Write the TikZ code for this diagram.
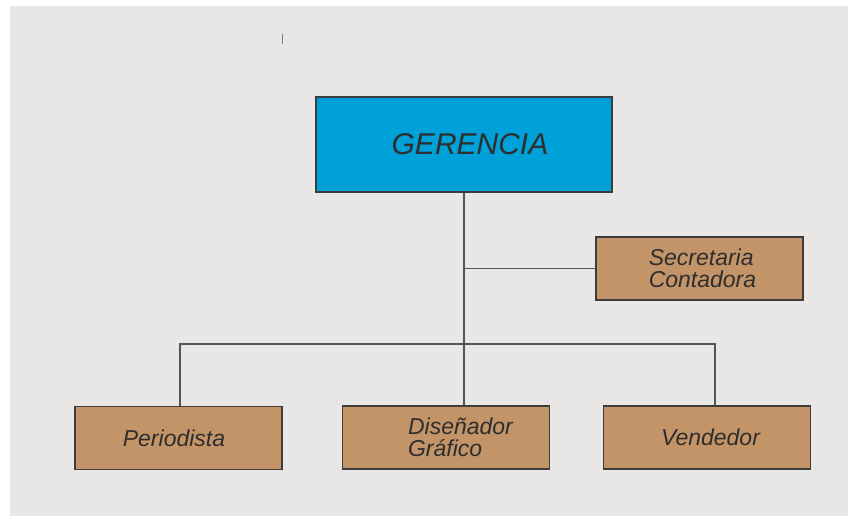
\documentclass[tikz,border=0pt]{standalone}
\usepackage{fontspec}
\setmainfont{Liberation Sans}
\usetikzlibrary{positioning}

\definecolor{paper}{HTML}{E8E7E5}
\definecolor{headblue}{HTML}{00A0D8}
\definecolor{staffbrown}{HTML}{C39468}
\definecolor{edgegray}{HTML}{3C3C3C}
\definecolor{linegray}{HTML}{555555}
\definecolor{inkgray}{HTML}{2E2E2E}

\begin{document}
\begin{tikzpicture}[
        x=1pt, y=-1pt,
        head/.style={rectangle, minimum width=296pt, minimum height=95pt,
            inner sep=0pt, draw=edgegray, line width=1.4pt, fill=headblue,
            text=inkgray, font=\fontsize{30}{32}\selectfont\itshape},
        staff/.style={rectangle, minimum width=207pt, minimum height=63pt,
            inner sep=0pt, draw=edgegray, line width=1.4pt, fill=staffbrown,
            text=inkgray, align=left, font=\fontsize{23}{22}\selectfont\itshape},
        conn/.style={draw=linegray, line width=1.4pt},
    ]
        \useasboundingbox (0,0) rectangle (848,516);
        \fill[white] (0,0) rectangle (848,516);
        \fill[paper] (10,6) rectangle (848,516);
        \draw[gray, line width=0.8pt] (282,34) -- (282,44);

        \node (gerencia) [head] at (464,144.5) {\hspace*{12pt}GERENCIA};
        \node (secretaria) [staff] at (699.5,268.5) {\hspace*{6pt}Secretaria\\\hspace*{6pt}Contadora};
        \node (periodista) [staff] at (178.5,438) {Periodista\hspace*{9pt}};
        \node (disenador) [staff] at (446,437.5) {\hspace*{29pt}Diseñador\\\hspace*{29pt}Gráfico};
        \node (vendedor) [staff] at (707,437.5) {\hspace*{7pt}Vendedor};

        \coordinate (bus) at (464,344);
        \coordinate (busL) at (180,344);
        \coordinate (busR) at (715,344);

        \draw [conn] (gerencia.south) -- (bus);
        \draw [conn] (gerencia.south |- secretaria.west) -- (secretaria.west);
        \draw [conn] (periodista.north -| busL) -- (busL) -- (busR) -- (vendedor.north -| busR);
        \draw [conn] (bus) -- (disenador.north -| bus);
    \end{tikzpicture}
\end{document}
